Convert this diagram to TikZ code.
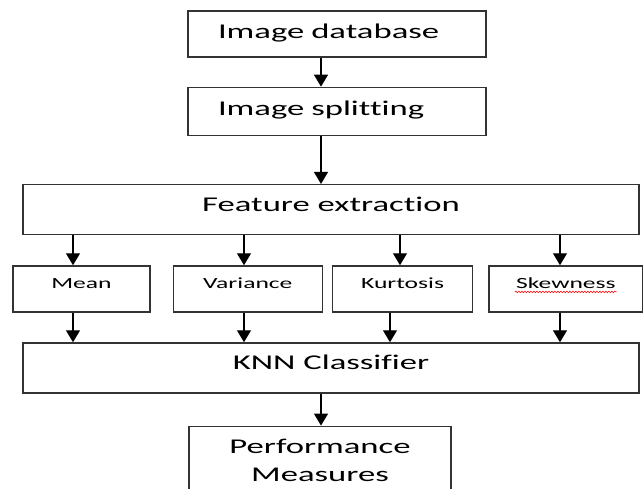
\documentclass[tikz,border=0pt]{standalone}
\usepackage{fontspec}
\setmainfont{Carlito}[FakeStretch=1.65, Ligatures=NoCommon]
\usetikzlibrary{positioning,arrows.meta,decorations.pathmorphing}

\begin{document}
\begin{tikzpicture}
       \tikzset{block/.style={rectangle, draw=black!80, line width=1.3pt, inner ysep=0pt,
                font=\fontsize{21pt}{28pt}\selectfont, text height=15pt, text depth=7pt}}

       \tikzset{leftblock/.style={block, text width=238pt, align=left, inner xsep=30pt}}

       \tikzset{wideblock/.style={block, minimum width=616pt, minimum height=50pt,
                text height=13pt, text depth=9pt}}

       \tikzset{stat/.style={rectangle, draw=black!80, line width=1.3pt, minimum height=46pt,
                font=\fontsize{15.5pt}{18pt}\selectfont, text height=10pt, text depth=10pt}}

       \tikzset{result/.style={rectangle, draw=black!80, line width=1.3pt, minimum width=262pt,
                align=center, inner ysep=13pt, font=\fontsize{21pt}{28pt}\selectfont}}

       \tikzset{arrow/.style={-{Triangle[width=14pt,length=12pt]}, line width=1.3pt}}

       \tikzset{squiggle/.style={red, line width=0.6pt, decorate,
                decoration={snake, amplitude=0.8pt, segment length=3pt}}}

        \useasboundingbox (0,0) rectangle (643pt,-488pt);

        \node[leftblock, minimum height=46pt] (db) at (337pt,-34pt) {Image database};
        \node[leftblock, minimum height=48pt, below=29pt of db] (split) {Image splitting};
        \node[wideblock, below=48pt of split, xshift=-6pt] (feat) {Feature extraction};

        \node[stat, minimum width=137pt, below right=30pt and -10pt of feat.south west] (mean) {Mean};
        \node[stat, minimum width=149pt, right=22pt of mean] (var) {Variance};
        \node[stat, minimum width=140pt, right=9pt of var] (kurt) {Kurtosis};
        \node[stat, minimum width=154pt, right=15pt of kurt] (skew) {Skewness};

        \node[wideblock, below=107pt of feat] (knn) {KNN Classifier};
        \node[result, below=32pt of knn, xshift=-11pt] (perf) {Performance\\Measures};

        % spell check mark under the last statistic
        \draw[squiggle] ([xshift=-51pt,yshift=-3pt]skew.center) -- ([xshift=51pt,yshift=-3pt]skew.center);

        \draw[arrow] ([xshift=-16pt]db.south) coordinate (a1) -- (a1 |- split.north);
        \draw[arrow] ([xshift=-16pt]split.south) coordinate (a2) -- (a2 |- feat.north);

        \draw[arrow] ([xshift=-258pt]feat.south) coordinate (f1) -- (f1 |- mean.north);
        \draw[arrow] ([xshift=-87pt]feat.south) coordinate (f2) -- (f2 |- var.north);
        \draw[arrow] ([xshift=69pt]feat.south) coordinate (f3) -- (f3 |- kurt.north);
        \draw[arrow] ([xshift=229pt]feat.south) coordinate (f4) -- (f4 |- skew.north);

        \draw[arrow] (f1 |- mean.south) -- (f1 |- knn.north);
        \draw[arrow] (f2 |- var.south) -- (f2 |- knn.north);
        \draw[arrow] ([xshift=-10pt]f3 |- kurt.south) coordinate (k3) -- (k3 |- knn.north);
        \draw[arrow] (f4 |- skew.south) -- (f4 |- knn.north);

        \draw[arrow] ([xshift=-10pt]knn.south) coordinate (a3) -- (a3 |- perf.north);

   \end{tikzpicture}
\end{document}
